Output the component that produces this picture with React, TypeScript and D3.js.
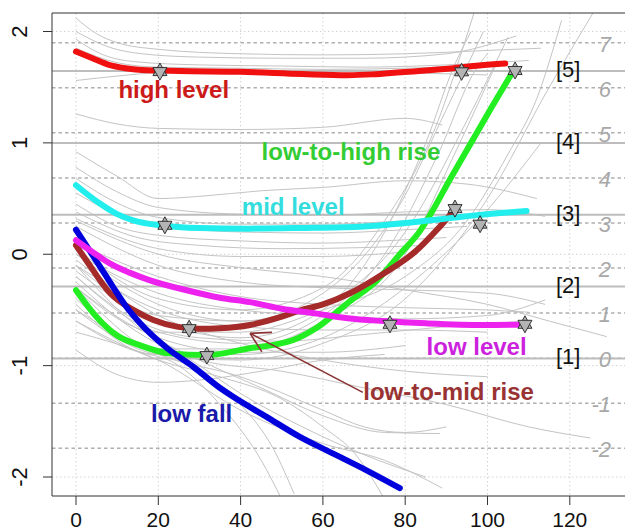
import React from "react";
import * as d3 from "d3";

type P = [number, number];

// ---------- axis ticks ----------
const X_TICKS = [0, 20, 40, 60, 80, 100, 120];
const Y_TICKS = [-2, -1, 0, 1, 2];
const RIGHT_TICKS = [-2, -1, 0, 1, 2, 3, 4, 5, 6, 7];
const LEVEL_VALUES = [-0.935, -0.29, 0.355, 1.0, 1.645];
const LEVEL_LABELS = ["[1]", "[2]", "[3]", "[4]", "[5]"];

// ---------- highlighted trajectories ----------
const highLevel: P[] = [[0, 1.82], [4, 1.76], [8, 1.7], [12, 1.67], [16, 1.655], [25, 1.645], [40, 1.638], [55, 1.618], [66, 1.608], [72, 1.615], [79, 1.635], [91, 1.668], [98, 1.695], [104.3, 1.713]];
const lowToHighRise: P[] = [[0, -0.323], [5, -0.563], [9.9, -0.728], [15.6, -0.818], [22.8, -0.89], [31.8, -0.905], [41.5, -0.848], [52.8, -0.77], [58.5, -0.66], [66.6, -0.42], [73, -0.24], [78.7, 0.0], [83.6, 0.21], [86, 0.35], [91, 0.68], [96, 1.0], [101, 1.32], [106, 1.63]];
const lowToMidRise: P[] = [[0, 0.08], [2.6, -0.06], [8.3, -0.35], [13.9, -0.5], [18.8, -0.59], [24.5, -0.65], [30, -0.67], [35, -0.665], [42.3, -0.635], [50, -0.56], [54.4, -0.505], [60, -0.45], [66.6, -0.35], [74.7, -0.175], [82.8, 0.035], [87.6, 0.215], [92, 0.4]];
const lowFall: P[] = [[0, 0.22], [3, 0.05], [6, -0.12], [9.1, -0.3], [12, -0.46], [15.6, -0.62], [22, -0.84], [28.5, -1.01], [34.6, -1.19], [38.2, -1.28], [46.3, -1.46], [54.4, -1.64], [62.5, -1.79], [70.6, -1.94], [78.7, -2.1]];
const lowLevel: P[] = [[0, 0.126], [4, 0.02], [8.3, -0.084], [13, -0.165], [18, -0.234], [26.9, -0.323], [35, -0.39], [42.3, -0.43], [50, -0.49], [58.5, -0.533], [66, -0.575], [74.7, -0.6], [85, -0.62], [99, -0.635], [109, -0.63]];
const midLevel: P[] = [[0, 0.62], [5.8, 0.455], [10, 0.36], [13.9, 0.305], [20.4, 0.26], [30, 0.235], [42, 0.23], [54.4, 0.236], [70, 0.25], [80, 0.28], [93.3, 0.335], [109.5, 0.389]];

const SERIES_NAMES = ["low-to-high rise", "low-to-mid rise", "low fall", "low level", "mid level", "high level"];
const SERIES_DATA = [lowToHighRise, lowToMidRise, lowFall, lowLevel, midLevel, highLevel];
const SERIES_LINE_COLORS = ["#22ee22", "#a52a2a", "#0000dd", "#ee22ee", "#22eeee", "#f01010"];
const SERIES_TEXT_COLORS = ["#33cc33", "#993333", "#1a1aaa", "#cc22dd", "#33dddd", "#cc1a1a"];
// label anchor positions (data coordinates, baseline start)
const LABEL_POS: P[] = [[45.1, 0.845], [69.8, -1.312], [18.2, -1.507], [85.2, -0.907], [40.3, 0.35], [10.3, 1.399]];

// prototype markers
const MARKERS: P[] = [[20.4, 1.64], [93.7, 1.638], [106.7, 1.65], [21.6, 0.26], [92.1, 0.41], [98.2, 0.27], [27.5, -0.668], [31.8, -0.91], [76.3, -0.629], [109.1, -0.629]];

// arrow from "low-to-mid rise" label to its curve
const ARROW_FROM: P = [69.7, -1.24];
const ARROW_TO: P = [42.3, -0.71];

// ---------- background individual trajectories ----------
const backgroundTrajectories: P[][] = [
  [[0, 2.12], [5, 1.98], [10, 1.9], [20, 1.84], [40, 1.8], [60, 1.79], [80, 1.8], [100, 1.83], [113, 1.85]],
  [[0, 2.0], [8, 1.86], [16, 1.8], [30, 1.77], [50, 1.76], [70, 1.76], [90, 1.8], [107, 1.96]],
  [[0, 1.93], [6, 1.8], [14, 1.73], [30, 1.7], [50, 1.69], [70, 1.68], [90, 1.7], [110, 1.74]],
  [[0, 1.85], [10, 1.72], [20, 1.68], [40, 1.67], [60, 1.66], [80, 1.67], [95, 1.69]],
  [[0, 1.56], [10, 1.6], [20, 1.63], [40, 1.64], [60, 1.65], [80, 1.63], [100, 1.61]],
  [[0, 1.26], [10, 1.17], [20, 1.13], [40, 1.12], [60, 1.14], [80, 1.22], [89, 1.16]],
  [[0, 0.92], [10, 0.7], [20, 0.5], [30, 0.52], [45, 0.57], [60, 0.6], [80, 0.66], [95, 0.63], [112, 0.5]],
  [[0, 0.78], [10, 0.56], [20, 0.42], [40, 0.36], [60, 0.35], [80, 0.38], [100, 0.4], [114, 0.34]],
  [[0, 0.68], [10, 0.46], [20, 0.33], [40, 0.27], [60, 0.27], [80, 0.3], [100, 0.34]],
  [[0, 0.55], [10, 0.36], [20, 0.26], [40, 0.2], [60, 0.19], [80, 0.22], [95, 0.25]],
  [[0, 0.45], [10, 0.25], [20, 0.17], [40, 0.12], [60, 0.1], [80, 0.13], [90, 0.15]],
  [[0, 0.38], [15, 0.15], [30, 0.08], [50, 0.05], [70, 0.06], [85, 0.08]],
  [[0, 0.32], [20, 0.05], [40, -0.02], [60, -0.02], [80, 0.02]],
  [[0, 0.3], [20, 0.0], [40, -0.12], [60, -0.2], [80, -0.32], [100, -0.45], [115, -0.6], [129, -0.74]],
  [[0, 0.25], [20, -0.1], [40, -0.25], [60, -0.3], [80, -0.32], [100, -0.35], [114, -0.45]],
  [[0, 0.1], [20, -0.2], [40, -0.38], [60, -0.45], [80, -0.48], [100, -0.5], [110, -0.52]],
  [[0, 0.0], [20, -0.35], [40, -0.5], [60, -0.55], [80, -0.58], [100, -0.55], [114, -0.41]],
  [[0, -0.1], [20, -0.5], [40, -0.65], [60, -0.68], [80, -0.68], [100, -0.7]],
  [[0, -0.2], [15, -0.6], [30, -0.75], [50, -0.78], [70, -0.72], [90, -0.65], [110, -0.6]],
  [[0, -0.3], [20, -0.75], [40, -0.88], [60, -0.88], [80, -0.82]],
  [[0, -0.86], [10, -1.08], [20, -1.15], [30, -1.13], [45, -1.05], [60, -0.95], [75, -0.9]],
  [[0, -0.1], [20, -0.6], [40, -0.75], [60, -0.5], [75, 0.2], [85, 1.0], [92, 1.7], [96, 2.0]],
  [[0, -0.2], [20, -0.7], [40, -0.8], [60, -0.55], [75, 0.0], [88, 0.9], [97, 1.65], [100, 1.8]],
  [[0, -0.4], [20, -0.85], [40, -0.85], [60, -0.6], [80, 0.0], [92, 0.9], [102, 1.7]],
  [[0, 0.0], [20, -0.45], [40, -0.6], [60, -0.45], [80, 0.2], [95, 1.2], [105, 1.95]],
  [[0, -0.5], [20, -0.9], [40, -0.95], [60, -0.8], [80, -0.4], [100, 0.5], [115, 1.5], [127, 2.25]],
  [[0, -0.3], [20, -0.7], [40, -0.7], [60, -0.5], [80, -0.2], [95, 0.3], [105, 0.9], [112, 1.4], [118, 2.1]],
  [[0, -0.6], [20, -0.9], [40, -0.9], [60, -0.75], [80, -0.3], [100, 0.4], [113, 1.0]],
  [[0, 0.05], [20, -0.4], [40, -0.5], [60, -0.3], [75, 0.3], [88, 1.2], [94, 1.85], [97, 2.2]],
  [[0, -0.15], [20, -0.55], [40, -0.6], [60, -0.35], [78, 0.4], [90, 1.3], [99, 2.0]],
  [[0, 0.1], [10, -0.4], [20, -0.75], [30, -1.0], [40, -1.25], [55, -1.55], [70, -1.8], [85, -2.0]],
  [[0, -0.1], [15, -0.65], [30, -0.95], [45, -1.2], [60, -1.45], [75, -1.6], [88.5, -1.61]],
  [[0, -0.3], [15, -0.8], [30, -1.05], [40, -1.35], [48, -1.75], [53, -2.15]],
  [[0, -0.45], [12, -0.82], [25, -1.0], [35, -1.35], [45, -1.85], [50, -2.2]],
  [[0, -0.6], [20, -0.95], [35, -1.1], [50, -1.3], [60, -1.55], [68, -1.8], [75, -2.2]],
  [[0, -0.5], [20, -0.9], [40, -1.1], [60, -1.4], [70, -1.55], [80, -1.6], [90, -1.55]],
  [[0, -0.7], [20, -0.95], [40, -1.4], [60, -1.7], [75, -1.85], [89, -2.1]],
  [[0, -0.25], [15, -0.7], [30, -0.95], [50, -1.05], [70, -1.2], [90, -1.35], [110, -1.55], [125, -1.65]],
  [[0, -0.05], [20, -0.55], [40, -0.8], [60, -0.95], [80, -1.05], [100, -1.1]],
];

const FONT = "'Liberation Sans', Arial, Helvetica, sans-serif";

export default function App() {
  const W = 625;
  const H = 532;
  const left = 52, top = 13, bottom = 496, right = 700;

  const x = d3.scaleLinear().domain([0, 120]).range([76, 569.8]);
  const y = d3.scaleLinear().domain([-2, 2]).range([477, 31.5]);
  const yR = d3.scaleLinear().domain([-2, 7]).range([448.3, 42.7]);

  const line = d3
    .line<P>()
    .x((d) => x(d[0]))
    .y((d) => y(d[1]))
    .curve(d3.curveMonotoneX);

  const [ax1, ay1] = [x(ARROW_FROM[0]), y(ARROW_FROM[1])];
  const [ax2, ay2] = [x(ARROW_TO[0]), y(ARROW_TO[1])];
  const ang = Math.atan2(ay1 - ay2, ax1 - ax2);
  const headLen = 22;
  const h1 = [ax2 + headLen * Math.cos(ang - Math.PI / 6), ay2 + headLen * Math.sin(ang - Math.PI / 6)];
  const h2 = [ax2 + headLen * Math.cos(ang + Math.PI / 6), ay2 + headLen * Math.sin(ang + Math.PI / 6)];

  return (
    <svg
      width={W}
      height={H}
      style={{ position: "absolute", left: 0, top: 0, background: "#fff" }}
      fontFamily={FONT}
    >
      <defs>
        <clipPath id="plotclip">
          <rect x={left} y={top} width={right - left} height={bottom - top} />
        </clipPath>
      </defs>
      <rect x={0} y={0} width={W} height={H} fill="#fff" />

      <g clipPath="url(#plotclip)">
        {/* light dotted grid */}
        {X_TICKS.map((t) => (
          <line key={"vx" + t} x1={x(t)} x2={x(t)} y1={top} y2={bottom} stroke="#d2d2d2" strokeWidth={1} strokeDasharray="1.5,2.5" />
        ))}
        {Y_TICKS.map((t) => (
          <line key={"hy" + t} x1={left} x2={right} y1={y(t)} y2={y(t)} stroke="#d2d2d2" strokeWidth={1} strokeDasharray="1.5,2.5" />
        ))}
        {/* right-axis dashed grid */}
        {RIGHT_TICKS.map((t) => (
          <line key={"hr" + t} x1={left} x2={right} y1={yR(t)} y2={yR(t)} stroke="#b0b0b0" strokeWidth={1.5} strokeDasharray="3.5,3" />
        ))}
        {/* background trajectories */}
        {backgroundTrajectories.map((tr, i) => (
          <path key={"bg" + i} d={line(tr) || ""} fill="none" stroke="#c4c4c4" strokeWidth={1} />
        ))}
        {/* level lines */}
        {LEVEL_VALUES.map((v, i) => (
          <line key={"lv" + i} x1={left} x2={right} y1={y(v)} y2={y(v)} stroke="#bdbdbd" strokeWidth={2} />
        ))}
        {/* highlighted trajectories */}
        {SERIES_DATA.map((s, i) => (
          <path key={"s" + i} d={line(s) || ""} fill="none" stroke={SERIES_LINE_COLORS[i]} strokeWidth={6} strokeLinecap="round" strokeLinejoin="round" />
        ))}
        {/* markers */}
        {MARKERS.map((m, i) => {
          const cx = x(m[0]);
          const cy = y(m[1]);
          return (
            <g key={"m" + i} transform={`translate(${cx},${cy})`}>
              <path d="M0,-8.5L7,4L-7,4Z" fill="#b4b4b4" stroke="#222" strokeWidth={0.9} />
              <path d="M0,8.5L7,-4L-7,-4Z" fill="#b4b4b4" stroke="#222" strokeWidth={0.9} />
            </g>
          );
        })}
      </g>

      {/* arrow */}
      <g stroke="#8b3333" strokeWidth={1.6} fill="none">
        <line x1={ax1} y1={ay1} x2={ax2} y2={ay2} />
        <line x1={ax2} y1={ay2} x2={h1[0]} y2={h1[1]} />
        <line x1={ax2} y1={ay2} x2={h2[0]} y2={h2[1]} />
      </g>

      {/* series labels */}
      {SERIES_NAMES.map((n, i) => (
        <text key={"t" + i} x={x(LABEL_POS[i][0])} y={y(LABEL_POS[i][1])} fill={SERIES_TEXT_COLORS[i]} fontSize={24} fontWeight="bold">
          {n}
        </text>
      ))}

      {/* level labels */}
      {LEVEL_LABELS.map((l, i) => (
        <text key={"ll" + i} x={556} y={y(LEVEL_VALUES[i]) + 6} fontSize={22} fill="#111">
          {l}
        </text>
      ))}

      {/* right axis labels */}
      {RIGHT_TICKS.map((t) => (
        <text key={"rt" + t} x={611} y={yR(t) + 9} fontSize={22} fontStyle="italic" fill="#a8a8a8" textAnchor="end">
          {t}
        </text>
      ))}

      {/* box */}
      <line x1={left} x2={right} y1={top} y2={top} stroke="#333" strokeWidth={1} />
      <line x1={left} x2={right} y1={bottom} y2={bottom} stroke="#333" strokeWidth={1} />
      <line x1={left} x2={left} y1={top} y2={bottom} stroke="#333" strokeWidth={1} />

      {/* bottom axis */}
      {X_TICKS.map((t) => (
        <g key={"xt" + t}>
          <line x1={x(t)} x2={x(t)} y1={bottom} y2={bottom + 9} stroke="#333" strokeWidth={1} />
          <text x={x(t)} y={527} fontSize={21} textAnchor="middle" fill="#111">
            {t}
          </text>
        </g>
      ))}

      {/* left axis */}
      {Y_TICKS.map((t) => (
        <g key={"yt" + t}>
          <line x1={left - 9} x2={left} y1={y(t)} y2={y(t)} stroke="#333" strokeWidth={1} />
          <text transform={`translate(27,${y(t)}) rotate(-90)`} fontSize={22} textAnchor="middle" fill="#111">
            {t}
          </text>
        </g>
      ))}
    </svg>
  );
}
